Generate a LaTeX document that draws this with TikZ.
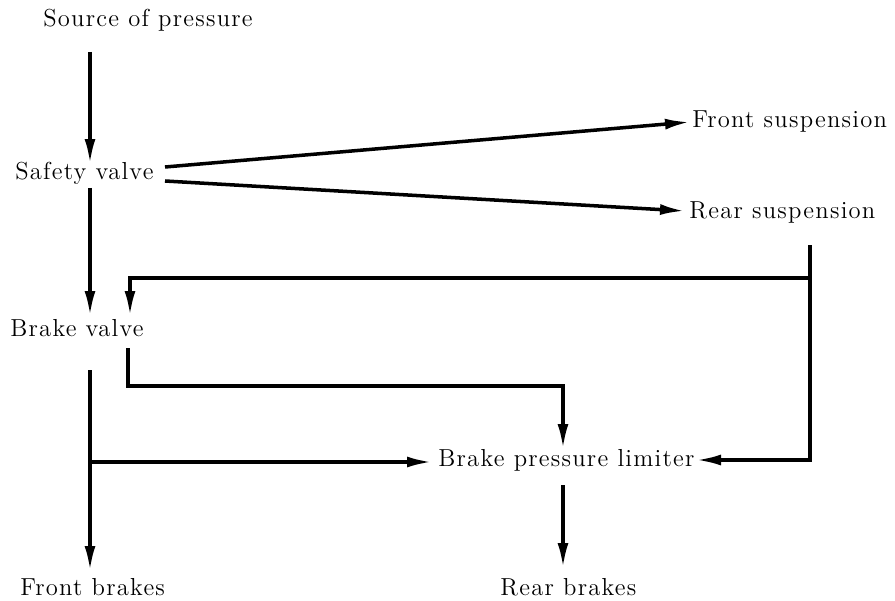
\documentclass[tikz,border=0pt]{standalone}
\usepackage{fontspec}
\setmainfont{Latin Modern Roman}[LetterSpace=5]
\usetikzlibrary{arrows.meta}
\begin{document}
\begin{tikzpicture}[x=0.02cm,y=-0.02cm,
  lbl/.style={inner sep=0pt,font=\fontsize{14}{16}\selectfont},
  conn/.style={line width=2pt,line join=miter},
  arr/.style={conn,-{Latex[length=5mm,width=2.2mm]}}]
\useasboundingbox (0,0) rectangle (895,601);
% labels
\node[lbl] (src) at (148,20) {Source of pressure};
\node[lbl,anchor=west] (sv) at (15,173) {Safety valve};
\node[lbl,anchor=west] (fs) at (692,122) {Front suspension};
\node[lbl,anchor=west] (rs) at (689,212) {Rear suspension};
\node[lbl,anchor=west] (bv) at (10,328) {Brake valve};
\node[lbl,anchor=west] (bpl) at (438,460) {Brake pressure limiter};
\node[lbl,anchor=west] (fb) at (20,587) {Front brakes};
\node[lbl,anchor=west] (rb) at (500,587) {Rear brakes};
% coordinates
\coordinate (a1) at (90,52);   \coordinate (a1e) at (90,164);
\coordinate (s1) at (165,167); \coordinate (s1e) at (690,122);
\coordinate (s2) at (165,181); \coordinate (s2e) at (685,211);
\coordinate (a4) at (90,188);  \coordinate (a4e) at (90,316);
\coordinate (r0) at (810,245); \coordinate (r1) at (810,278);
\coordinate (r2) at (810,460); \coordinate (r2e) at (696,460);
\coordinate (r3) at (130,278); \coordinate (r3e) at (130,316);
\coordinate (b0) at (128,348); \coordinate (b1) at (128,386);
\coordinate (b2) at (563,386); \coordinate (b2e) at (563,449);
\coordinate (f0) at (90,370);  \coordinate (f1) at (90,462);
\coordinate (f0e) at (90,571); \coordinate (f1e) at (432,462);
\coordinate (l0) at (563,485); \coordinate (l0e) at (563,568);
% connectors
\draw[arr] (a1) -- (a1e);
\draw[arr] (s1) -- (s1e);
\draw[arr] (s2) -- (s2e);
\draw[arr] (a4) -- (a4e);
\draw[arr] (r0) -- (r2) -- (r2e);
\draw[arr] (r1) -- (r3) -- (r3e);
\draw[arr] (b0) -- (b1) -- (b2) -- (b2e);
\draw[arr] (f0) -- (f0e);
\draw[arr] (f1) -- (f1e);
\draw[arr] (l0) -- (l0e);
\end{tikzpicture}
\end{document}
